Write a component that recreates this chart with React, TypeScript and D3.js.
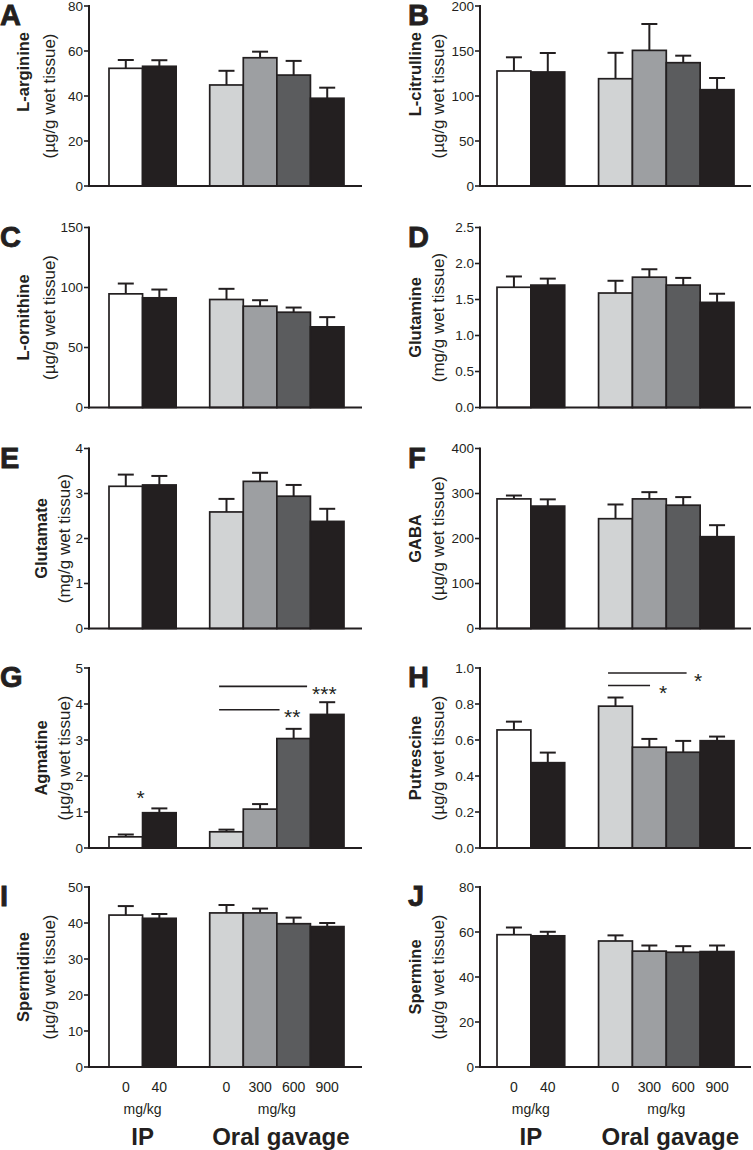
import React from "react";
import * as d3 from "d3";

// ---------- data ----------
const GROUP_KEYS = ["ip0", "ip40", "oral0", "oral300", "oral600", "oral900"];
const BAND_DOMAIN = ["ip0", "ip40", "gap", "oral0", "oral300", "oral600", "oral900"];
const DOSE_LABELS = ["0", "40", "0", "300", "600", "900"];
const ROUTE_LABELS = ["IP", "Oral gavage"];
const ROUTE_GROUPS = [["ip0", "ip40"], ["oral0", "oral300", "oral600", "oral900"]];
const UNIT_LABEL = "mg/kg";
const BAR_FILLS = ["#ffffff", "#231f20", "#d1d3d4", "#9d9fa2", "#5b5c5e", "#231f20"];

const argMean = [52.3, 53.2, 44.9, 57.0, 49.3, 39.0];
const argSem = [3.7, 2.7, 6.3, 2.7, 6.3, 4.7];
const citMean = [127.8, 126.7, 119.2, 150.7, 137, 107];
const citSem = [15.2, 21.1, 28.8, 29.3, 7.8, 13];
const ornMean = [94.7, 91.4, 90, 84.4, 79.4, 67.2];
const ornSem = [8.6, 6.9, 8.9, 5, 3.9, 8.1];
const glnMean = [1.67, 1.7, 1.59, 1.81, 1.7, 1.46];
const glnSem = [0.15, 0.09, 0.17, 0.11, 0.1, 0.12];
const gluMean = [3.16, 3.19, 2.59, 3.27, 2.94, 2.38];
const gluSem = [0.26, 0.2, 0.29, 0.19, 0.25, 0.28];
const gabaMean = [288, 272, 244, 288, 274, 204];
const gabaSem = [7.5, 15, 31.6, 15, 18, 25.6];
const agmMean = [0.31, 0.98, 0.45, 1.08, 3.04, 3.71];
const agmSem = [0.065, 0.12, 0.06, 0.14, 0.27, 0.34];
const putMean = [0.656, 0.474, 0.788, 0.56, 0.532, 0.596];
const putSem = [0.046, 0.056, 0.048, 0.046, 0.063, 0.023];
const spdMean = [42.2, 41.3, 42.8, 42.8, 39.8, 39.0];
const spdSem = [2.5, 1.2, 2.2, 1.2, 1.7, 1.0];
const spmMean = [58.8, 58.3, 56, 51.5, 51, 51.3];
const spmSem = [3.2, 1.8, 2.5, 2.5, 2.7, 2.7];

const agmSig = [
  { from: "oral0", to: "oral600", y: 4.49, label: "***" },
  { from: "oral0", to: "oral300", y: 3.84, label: "**" },
];
const agmIpSig = [{ at: "ip40", y: 1.54, label: "*" }];
const putSig = [
  { from: "oral0", to: "oral600", y: 0.972, label: "*" },
  { from: "oral0", to: "oral300", y: 0.903, label: "*" },
];

const UG = "(\u00b5g/g wet tissue)";
const MG = "(mg/g wet tissue)";

const PANELS = [
  { id: "A", name: "L-arginine", unit: UG, max: 80, ticks: [0, 20, 40, 60, 80], fmt: "d", mean: argMean, sem: argSem, sig: [], pt: [] },
  { id: "B", name: "L-citrulline", unit: UG, max: 200, ticks: [0, 50, 100, 150, 200], fmt: "d", mean: citMean, sem: citSem, sig: [], pt: [] },
  { id: "C", name: "L-ornithine", unit: UG, max: 150, ticks: [0, 50, 100, 150], fmt: "d", mean: ornMean, sem: ornSem, sig: [], pt: [] },
  { id: "D", name: "Glutamine", unit: MG, max: 2.5, ticks: [0, 0.5, 1, 1.5, 2, 2.5], fmt: ".1f", mean: glnMean, sem: glnSem, sig: [], pt: [] },
  { id: "E", name: "Glutamate", unit: MG, max: 4, ticks: [0, 1, 2, 3, 4], fmt: "d", mean: gluMean, sem: gluSem, sig: [], pt: [] },
  { id: "F", name: "GABA", unit: UG, max: 400, ticks: [0, 100, 200, 300, 400], fmt: "d", mean: gabaMean, sem: gabaSem, sig: [], pt: [] },
  { id: "G", name: "Agmatine", unit: UG, max: 5, ticks: [0, 1, 2, 3, 4, 5], fmt: "d", mean: agmMean, sem: agmSem, sig: agmSig, pt: agmIpSig },
  { id: "H", name: "Putrescine", unit: UG, max: 1.0, ticks: [0, 0.2, 0.4, 0.6, 0.8, 1.0], fmt: ".1f", mean: putMean, sem: putSem, sig: putSig, pt: [] },
  { id: "I", name: "Spermidine", unit: UG, max: 50, ticks: [0, 10, 20, 30, 40, 50], fmt: "d", mean: spdMean, sem: spdSem, sig: [], pt: [] },
  { id: "J", name: "Spermine", unit: UG, max: 80, ticks: [0, 20, 40, 60, 80], fmt: "d", mean: spmMean, sem: spmSem, sig: [], pt: [] },
];

// ---------- layout ----------
const W = 753;
const H = 1150;
const INK = "#231f20";
const FONT = "'Liberation Sans', Arial, Helvetica, sans-serif";
const ROW_BASE = [186, 407.5, 628.5, 848, 1067];
const PLOT_H = 180;
const COLS = [
  { axisX: 89, barStart: 109, barEnd: 344, xEnd: 362, letterX: 0, boldX: 29, unitX: 55 },
  { axisX: 480, barStart: 497, barEnd: 734, xEnd: 751, letterX: 408, boldX: 421, unitX: 444 },
];
const NEAR_LABEL = { E: { boldX: 47, unitX: 70 }, G: { boldX: 47, unitX: 70 } };
const TOP_ALIGNED_BOLD = { A: 32, B: 32 };
const SIG_LAYOUT = {
  G: [{ end: 0.9, gap: 5 }, { end: 1.08, gap: 4.5 }],
  H: [{ end: 0.6, gap: 7.5 }, { end: 0.52, gap: 9 }],
};

function Panel({ p, idx }) {
  const col = COLS[idx % 2];
  const row = Math.floor(idx / 2);
  const base = ROW_BASE[row];
  const top = base - PLOT_H;
  const y = d3.scaleLinear().domain([0, p.max]).range([base, top]);
  const x = d3.scaleBand().domain(BAND_DOMAIN).range([col.barStart, col.barEnd]).paddingInner(0).paddingOuter(0);
  const bw = x.bandwidth();
  const fmt = d3.format(p.fmt);
  const near = NEAR_LABEL[p.id];
  const boldX = near ? near.boldX : col.boldX;
  const unitX = near ? near.unitX : col.unitX;
  const mid = (top + base) / 2;
  const topAligned = TOP_ALIGNED_BOLD[p.id];
  const isBottom = row === ROW_BASE.length - 1;

  return (
    <g>
      {/* panel letter */}
      <text x={col.letterX} y={top + 19} fontSize={29} fontWeight={900} fill={INK} fontFamily={FONT}
        stroke={INK} strokeWidth={0.8}>{p.id}</text>
      {/* y labels */}
      <text transform={`translate(${boldX},${topAligned !== undefined ? topAligned : mid}) rotate(-90)`}
        textAnchor={topAligned !== undefined ? "end" : "middle"} fontSize={16.5} fontWeight={700} fill={INK} fontFamily={FONT}>{p.name}</text>
      <text transform={`translate(${unitX},${mid}) rotate(-90)`} textAnchor="middle" fontSize={17} fill={INK} fontFamily={FONT}>{p.unit}</text>

      {/* bars */}
      {GROUP_KEYS.map((k, i) => (
        <rect key={k} x={x(k)} y={y(p.mean[i])} width={bw} height={base - y(p.mean[i])}
          fill={BAR_FILLS[i]} stroke={INK} strokeWidth={1.7} />
      ))}
      {/* error bars */}
      {GROUP_KEYS.map((k, i) => {
        const cx = x(k) + bw / 2;
        const y1 = y(p.mean[i]);
        const y2 = y(p.mean[i] + p.sem[i]);
        return (
          <g key={"e" + k} stroke={INK} strokeWidth={2}>
            <line x1={cx} x2={cx} y1={y1} y2={y2} />
            <line x1={cx - 8} x2={cx + 8} y1={y2} y2={y2} />
          </g>
        );
      })}

      {/* axes */}
      <line x1={col.axisX} x2={col.axisX} y1={top - 1} y2={base + 1} stroke={INK} strokeWidth={2} />
      <line x1={col.axisX - 1} x2={col.xEnd} y1={base} y2={base} stroke={INK} strokeWidth={2} />
      {p.ticks.map((t) => (
        <g key={"t" + t}>
          <line x1={col.axisX - 5} x2={col.axisX} y1={y(t)} y2={y(t)} stroke={INK} strokeWidth={1.6} />
          <text x={col.axisX - 6} y={y(t)} dy="0.36em" textAnchor="end" fontSize={13.5} fill={INK} fontFamily={FONT}>{fmt(t)}</text>
        </g>
      ))}

      {/* significance */}
      {p.sig.map((s, j) => {
        const lay = SIG_LAYOUT[p.id][j];
        const x1 = x(s.from) + bw * 0.28;
        const x2 = x(s.to) + bw * lay.end;
        const yy = y(s.y);
        return (
          <g key={"s" + j}>
            <line x1={x1} x2={x2} y1={yy} y2={yy} stroke={INK} strokeWidth={1.6} />
            <text x={x2 + lay.gap} y={yy + 14.5} fontSize={21} fill={INK} fontFamily={FONT}>{s.label}</text>
          </g>
        );
      })}
      {p.pt.map((s, j) => (
        <text key={"p" + j} x={x(s.at) - 2} y={y(s.y) + 12.5} textAnchor="middle" fontSize={21} fill={INK} fontFamily={FONT}>{s.label}</text>
      ))}

      {/* x labels on bottom row */}
      {isBottom && (
        <g fontFamily={FONT} fill={INK}>
          {GROUP_KEYS.map((k, i) => (
            <text key={"d" + k} x={x(k) + bw / 2} y={base + 25} textAnchor="middle" fontSize={14}>{DOSE_LABELS[i]}</text>
          ))}
          {ROUTE_GROUPS.map((g, i) => {
            const cx = (x(g[0]) + x(g[g.length - 1]) + bw) / 2;
            return (
              <g key={"r" + i}>
                <text x={cx} y={base + 47} textAnchor="middle" fontSize={14}>{UNIT_LABEL}</text>
                <text x={cx + (i === 1 ? 4 : 0)} y={base + 78} textAnchor="middle" fontSize={24} fontWeight={700}>{ROUTE_LABELS[i]}</text>
              </g>
            );
          })}
        </g>
      )}
    </g>
  );
}

export default function App() {
  return (
    <svg width={W} height={H} viewBox={`0 0 ${W} ${H}`}
      style={{ position: "absolute", left: 0, top: 0, background: "#fff" }}>
      <rect x={0} y={0} width={W} height={H} fill="#fff" />
      {PANELS.map((p, i) => (
        <Panel key={p.id} p={p} idx={i} />
      ))}
    </svg>
  );
}
